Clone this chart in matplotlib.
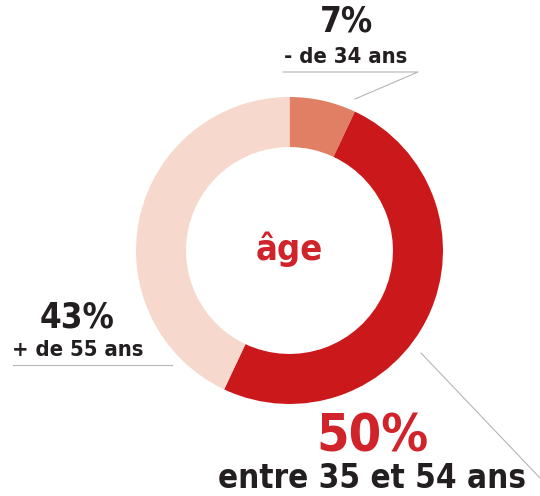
import matplotlib.pyplot as plt

# age distribution
labels = ["- de 34 ans", "entre 35 et 54 ans", "+ de 55 ans"]
shares = [7, 50, 43]
colors = ["#E07F64", "#CB181B", "#F6D8CC"]

W, H = 540, 496
fig = plt.figure(figsize=(W / 100, H / 100), dpi=100)
ax = fig.add_axes([0, 0, 1, 1])

cx, cy, r = 289.5, H - 250.5, 153.5
ax.pie(shares, colors=colors, startangle=90, counterclock=False,
       center=(cx, cy), radius=r,
       wedgeprops=dict(width=r * 0.326, linewidth=0), frame=True)
ax.set_xlim(0, W)
ax.set_ylim(0, H)
ax.set_aspect("equal")
ax.axis("off")

dark = "#231F20"
red = "#D0232A"
grey = "#B5B5B5"
font = dict(family="DejaVu Sans", fontstretch="condensed", fontweight="bold")

ax.text(cx, cy + 1, "âge", color=red, fontsize=26, ha="center", va="center", **font)

# 7%
ax.text(347, H - 22, f"{shares[0]}%", color=dark, fontsize=25, ha="center", va="center", **font)
ax.text(346, H - 57, labels[0], color=dark, fontsize=15.8, ha="center", va="center", **font)
ax.plot([283, 418, 355], [H - 72, H - 72, H - 99], color=grey, lw=0.8)

# 43%
ax.text(77, H - 318, f"{shares[2]}%", color=dark, fontsize=25, ha="center", va="center", **font)
ax.text(78, H - 350, labels[2], color=dark, fontsize=15.8, ha="center", va="center", **font)
ax.plot([13, 172], [H - 365, H - 365], color=grey, lw=0.8)

# 50%
ax.text(373, H - 437, f"{shares[1]}%", color=red, fontsize=37.5, ha="center", va="center", **font)
ax.text(372, H - 478, labels[1], color=dark, fontsize=23.8, ha="center", va="center", **font)
ax.plot([421, 540], [H - 353, H - 478], color=grey, lw=0.8)

fig.savefig("out.png", dpi=100)
